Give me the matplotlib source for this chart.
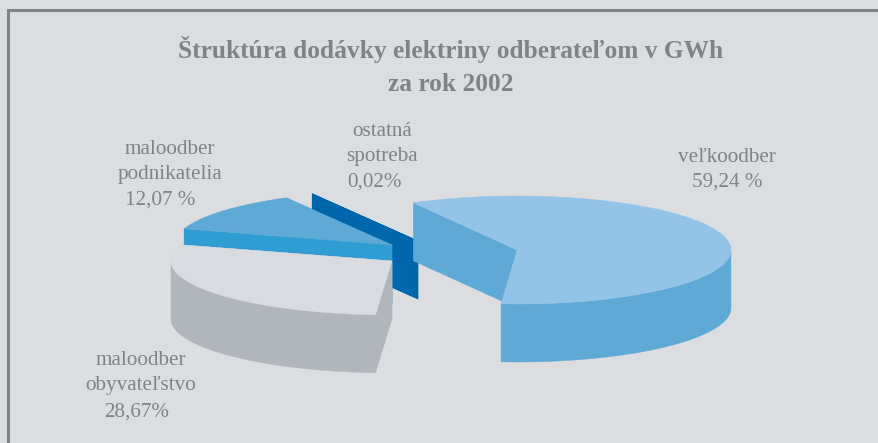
"""Exploded 3D-style pie: structure of electricity supply to customers, 2002."""

import numpy as np
import matplotlib
matplotlib.use('Agg')
import matplotlib.pyplot as plt
from matplotlib.patches import Polygon

# Data
categories = ['veľkoodber', 'maloodber\nobyvateľstvo', 'maloodber\npodnikatelia', 'ostatná\nspotreba']
shares = [59.24, 28.67, 12.07, 0.02]
share_labels = ['59,24 %', '28,67%', '12,07 %', '0,02%']
title_lines = ['Štruktúra dodávky elektriny odberateľom v GWh', 'za rok 2002']

# Pie geometry in picture pixels
RY, DEPTH = 54, 58
START = 119
radii = [214, 221, 218, 218]
centres = [(517, 250), (392, 261), (392, 245), (418, 241)]
top_cols = ['#93c4e8', '#d8dbdf', '#5ea9d6', '#0067ac']
wall_cols = ['#5ea9d6', '#b1b6bc', '#5ea9d6', '#0067ac']
cut_cols = ['#5ea9d6', '#b1b6bc', '#2f9cd4', '#0067ac']
cat_pos = [(727, 158), (141, 373), (170, 162), (382, 144)]
pct_pos = [(727, 182), (137, 412), (160, 200), (375, 182)]

GREY = '#808285'
plt.rcParams['font.family'] = ['Liberation Serif', 'DejaVu Serif']


def rim(c, rx, a0, a1, n=120):
    t = np.radians(np.linspace(a0, a1, n))
    return np.column_stack([c[0] + rx * np.cos(t), c[1] - RY * np.sin(t)])


def extrude(pts):
    low = pts[::-1] + [0, DEPTH]
    return np.vstack([pts, low])


def poly(ax, pts, col, z):
    ax.add_patch(Polygon(pts, closed=True, facecolor=col, edgecolor=col, linewidth=0.3, zorder=z))


fig = plt.figure(figsize=(8.79, 4.43), dpi=100, facecolor='#dcdde0')
ax = fig.add_axes([0, 0, 1, 1])
ax.set_xlim(0, 879)
ax.set_ylim(443, 0)
ax.axis('off')

# frame, open at the bottom
ax.plot([8, 8, 879], [443, 10, 10], color=GREY, linewidth=2.2, solid_joinstyle='miter', zorder=1)

# slices, clockwise from START; back ones first
angles = START - np.cumsum([0] + shares) * 3.6
for i in [3, 2, 1, 0]:
    a0, a1 = angles[i], angles[i + 1]
    c = centres[i]
    rx = radii[i]
    edge = rim(c, rx, a0, a1)
    z = 2 + (3 - i) * 3
    apex = np.array(c, dtype=float)

    # cut faces between the rim and the apex
    poly(ax, extrude(np.array([edge[0], apex])), cut_cols[i], z)
    poly(ax, extrude(np.array([apex, edge[-1]])), cut_cols[i], z)

    # outer wall, only the front half of the ellipse shows
    front = np.linspace(a1, a0, 200)
    front = front[np.sin(np.radians(front)) <= 0]
    if len(front) > 1:
        poly(ax, extrude(rim(c, rx, front[0], front[-1], 200)), wall_cols[i], z + 1)

    poly(ax, np.vstack([apex, edge]), top_cols[i], z + 2)

for cat, pct, cp, pp in zip(categories, share_labels, cat_pos, pct_pos):
    ax.text(cp[0], cp[1], cat, ha='center', va='center', fontsize=15.2,
            color=GREY, linespacing=1.38, zorder=30)
    ax.text(pp[0], pp[1], pct, ha='center', va='center', fontsize=15.2,
            color=GREY, zorder=30)

ax.text(451, 49, title_lines[0], ha='center', va='center', fontsize=18.3, fontweight='bold',
        color=GREY, zorder=30)
ax.text(451, 84, title_lines[1], ha='center', va='center', fontsize=18.3, fontweight='bold',
        color=GREY, zorder=30)

fig.savefig('out.png', dpi=100, facecolor=fig.get_facecolor())
